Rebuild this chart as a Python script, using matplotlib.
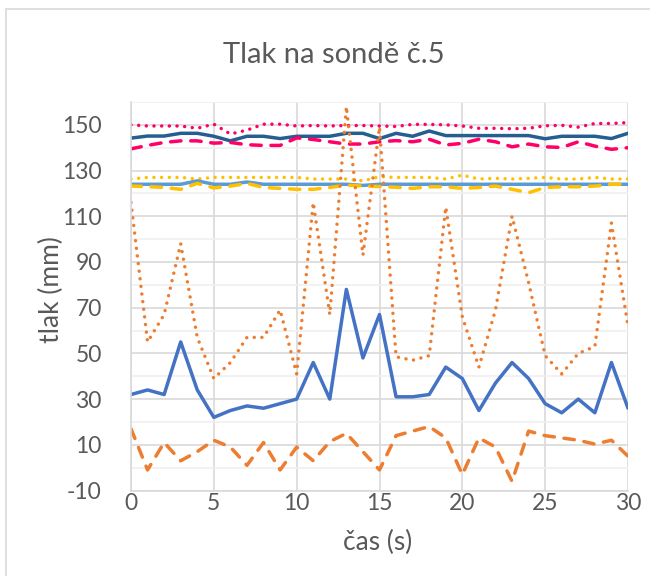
import numpy as np
import matplotlib.pyplot as plt
from matplotlib.patches import Rectangle

plt.rcParams['font.family'] = ['Lato', 'DejaVu Sans']
plt.rcParams['axes.unicode_minus'] = False

cas = list(range(31))

# horní skupina
ruzova_tecky = [150, 149.5, 149.5, 149.5, 148.5, 150.3, 146, 147.7, 150.3, 150.3, 149.5,
                149.7, 149.5, 149.7, 149.7, 149.5, 149.3, 150.2, 150.2, 150, 149.5,
                148.5, 148.5, 148.3, 148.5, 149.6, 149.8, 149, 150.6, 150.6, 151]
modra_tmava = [144.2, 145.1, 145.1, 146.3, 146.3, 145, 143, 145, 145, 144, 145,
               145, 145, 146.3, 146.3, 144, 146.3, 145, 147.3, 145.3, 145.3,
               145.3, 145.3, 145.3, 145.3, 143.9, 145, 145, 145, 144, 146.3]
ruzova_carky = [139.5, 141, 142.3, 143, 143, 142, 142.3, 141.3, 141, 141, 144.3,
                143.6, 142.6, 141.6, 141.6, 142.6, 143.1, 142.6, 143.7, 141.2, 141.9,
                143.7, 142.6, 140.4, 141.6, 140.4, 140.1, 142.6, 140.7, 139.3, 140]
zluta_tecky = [126.3, 127, 127, 127, 126.3, 127, 127, 127, 127, 127, 127,
               126.3, 126.3, 126.3, 125.5, 127.3, 127, 127, 127, 126.3, 128,
               126.3, 126.6, 126.3, 126.6, 127, 126.3, 126.3, 127, 126.3, 126.3]
modra_svetla = [124, 124, 124, 124, 125.5, 124, 124, 125, 124, 124, 124,
                124, 124, 124, 123.5, 124, 124, 124, 124, 124, 124,
                124, 124, 124, 124, 124, 124, 124, 124, 124, 124]
zluta_carky = [123.2, 123, 122.6, 121.8, 124.4, 122.4, 123.2, 124.4, 122.6, 122.2, 121.8,
               121.8, 122.6, 123.6, 123.2, 123, 122.7, 122.2, 122.9, 122.9, 122.2,
               122.6, 123.2, 121.8, 120.3, 122.6, 122.9, 122.9, 123.2, 124, 124]

# dolní skupina
oranzova_tecky = [116, 55, 67, 98, 57, 39, 46, 57, 57, 69, 41,
                  116, 67, 158, 93, 149, 48.5, 47, 49, 114, 66,
                  44, 69, 110, 81, 49, 41, 50, 53, 107, 62]
modra = [32, 34, 32, 55, 34, 22, 25, 27, 26, 28, 30,
         46, 30, 78, 48, 67, 31, 31, 32, 44, 39,
         25, 37, 46, 39, 28, 24, 30, 24, 46, 26]
oranzova_carky = [17, -1, 11, 3, 7, 12, 9, 1, 11, -1, 9,
                  3, 11.4, 15, 7, -1, 14, 16, 18, 13, -3,
                  13, 9, -6, 16, 14, 13, 12, 10.3, 12, 5]

y_ticks = list(range(-10, 151, 20))
x_ticks = list(range(0, 31, 5))

fig = plt.figure(figsize=(6.5, 5.76), dpi=100)
fig.patches.append(Rectangle((6 / 650, -0.01), 1.0, 1 - 9 / 576 + 0.01, transform=fig.transFigure,
                             fill=False, edgecolor='#D9D9D9', linewidth=1.2))
ax = fig.add_axes([131 / 650, 1 - 490.5 / 576, (628 - 131) / 650, (490.5 - 102) / 576])

lw = 2.5
tecky = (0, (0.01, 2.2))
carky = (0, (3.0, 2.8))

ax.plot(cas, ruzova_tecky, color='#FF0066', lw=lw, ls=tecky, dash_capstyle='round')
ax.plot(cas, modra_tmava, color='#255E91', lw=lw, solid_capstyle='round')
ax.plot(cas, ruzova_carky, color='#FF0066', lw=lw, ls=carky, dash_capstyle='round')
ax.plot(cas, zluta_tecky, color='#FFC000', lw=lw, ls=tecky, dash_capstyle='round')
ax.plot(cas, modra_svetla, color='#5B9BD5', lw=lw, solid_capstyle='round')
ax.plot(cas, zluta_carky, color='#FFC000', lw=lw, ls=carky, dash_capstyle='round')
ax.plot(cas, oranzova_tecky, color='#ED7D31', lw=lw, ls=tecky, dash_capstyle='round')
ax.plot(cas, modra, color='#4472C4', lw=lw, solid_capstyle='round')
ax.plot(cas, oranzova_carky, color='#ED7D31', lw=lw, ls=carky, dash_capstyle='round')

ax.set_xlim(0, 30)
ax.set_ylim(-10, 160)
ax.set_xticks(x_ticks)
ax.set_yticks(y_ticks)
ax.set_yticks(list(range(0, 161, 20)), minor=True)
ax.grid(True, which='major', color='#D9D9D9', lw=1.2)
ax.grid(True, which='minor', axis='y', color='#F0F0F0', lw=1.2)
ax.set_axisbelow(True)
for s in ['top', 'right']:
    ax.spines[s].set_visible(False)
for s in ['left', 'bottom']:
    ax.spines[s].set_color('#D9D9D9')
    ax.spines[s].set_linewidth(1.2)
ax.tick_params(which='both', length=0, labelsize=16.5, labelcolor='#595959')
ax.tick_params(axis='y', pad=21)
ax.tick_params(axis='x', pad=2)

fig.text(0.514, 1 - 55 / 576, 'Tlak na sondě č.5', ha='center', va='center', fontsize=21, color='#595959')
fig.text(51 / 650, 1 - 290 / 576, 'tlak (mm)', ha='center', va='center', rotation=90, fontsize=19, color='#595959')
fig.text(378 / 650, 1 - 542 / 576, 'čas (s)', ha='center', va='center', fontsize=19, color='#595959')

fig.savefig('out.png', dpi=100)
